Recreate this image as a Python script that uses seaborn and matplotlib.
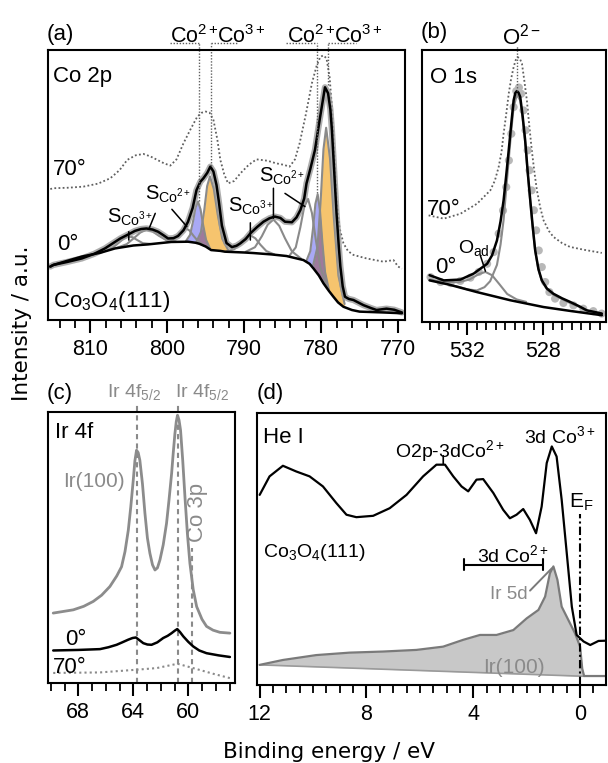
import numpy as np
import matplotlib
matplotlib.use("Agg")
import matplotlib.pyplot as plt
import seaborn as sns
from matplotlib.ticker import MultipleLocator

# ---------------- panel (a): Co 2p ----------------
a0_x = [815.2, 814.8, 813.0, 811.1, 809.5, 808.1, 806.1, 805.2, 804.2, 803.4, 802.7, 801.9, 801.2, 800.5, 799.9, 799.2,
        798.6, 797.9, 797.3, 796.7, 796.2, 795.7, 795.3, 794.8, 794.4, 794.0, 793.6, 793.3, 792.9, 792.3, 791.6, 791.0,
        790.5, 789.8, 789.2, 788.3, 787.5, 786.7, 786.0, 785.3, 784.7, 783.8, 783.2, 782.7, 782.2, 781.9, 781.4, 780.8,
        780.2, 779.8, 779.5, 779.1, 778.8, 778.6, 778.3, 778.0, 777.7, 777.5, 777.2, 776.9, 776.4, 775.8, 774.5, 773.5,
        772.8, 771.5, 770.5, 769.5]
a0_y = [19.8, 20.4, 21.5, 22.8, 24.5, 26.5, 30.2, 31.5, 33.0, 33.7, 33.9, 33.5, 32.7, 31.4, 30.2, 30.3,
        31.1, 33.2, 36.4, 41.5, 48.1, 51.2, 52.5, 54.5, 56.8, 55.0, 50.0, 44.0, 35.0, 28.5, 27.0, 27.5,
        28.4, 30.0, 32.1, 34.5, 36.4, 37.7, 38.3, 37.8, 36.4, 36.2, 38.0, 40.7, 45.0, 50.6, 56.0, 63.0,
        74.0, 81.0, 86.2, 84.0, 78.0, 70.4, 55.0, 39.5, 27.0, 19.8, 12.5, 8.6, 7.8, 7.4, 5.5, 4.4,
        3.7, 4.2, 3.8, 2.8]
a70_x = [815.2, 814.8, 812.8, 810.9, 809.0, 807.4, 806.2, 805.2, 804.1, 803.1, 802.2, 801.3, 800.4, 799.6, 798.8, 797.9,
         797.0, 796.1, 795.5, 795.0, 794.5, 794.0, 793.5, 793.1, 792.6, 792.1, 791.3, 790.5, 789.4, 788.4, 787.0, 785.8,
         784.9, 784.1, 783.4, 782.8, 782.0, 781.2, 780.6, 780.1, 779.7, 779.3, 778.9, 778.6, 778.3, 778.0, 777.6, 777.1,
         776.5, 775.8, 774.1, 771.9, 770.6, 770.0, 769.5]
a70_y = [48.5, 48.8, 49.0, 49.4, 50.5, 52.5, 55.5, 59.3, 61.0, 61.5, 60.6, 59.3, 58.0, 57.2, 59.5, 65.4,
         70.5, 75.3, 76.8, 77.2, 76.8, 74.1, 67.0, 59.3, 54.0, 50.6, 51.5, 54.3, 57.5, 59.5, 59.0, 58.0,
         57.5, 56.8, 59.5, 65.4, 76.0, 87.7, 94.0, 97.5, 98.0, 96.9, 90.0, 79.0, 62.0, 44.4, 34.0, 28.4,
         25.5, 24.1, 22.8, 21.6, 22.2, 19.8, 19.0]
a_bg_x = [815.2, 814.8, 811.1, 808.7, 806.8, 804.4, 802.5, 799.5, 797.3, 796.3, 795.8, 795.0, 794.3, 793.1, 792.5, 790.0,
          788.8, 786.5, 784.5, 782.3, 781.5, 781.0, 780.3, 779.7, 779.0, 778.4, 777.8, 777.1, 776.0, 775.0, 772.0, 769.5]
a_bg_y = [19.8, 20.4, 23.5, 24.9, 26.5, 27.6, 28.0, 28.9, 29.0, 28.6, 28.2, 27.2, 25.9, 25.6, 25.3, 25.0,
          24.8, 24.3, 23.7, 22.2, 20.8, 19.1, 16.5, 13.6, 10.8, 8.6, 6.5, 4.9, 3.7, 3.1, 2.8, 2.5]
# fitted components: energies and heights above background
a_co3_32_x = [776.95, 777.75, 778.35, 778.85, 779.35, 779.7, 780.05, 780.47, 781.03]
a_co3_32_h = [1.2, 10.0, 29.5, 49.6, 59.0, 49.6, 29.5, 10.0, 1.2]
a_co2_32_x = [779.01, 779.49, 779.85, 780.15, 780.45, 780.75, 781.05, 781.41, 781.89]
a_co2_32_h = [0.6, 5.0, 14.8, 24.8, 29.5, 24.8, 14.8, 5.0, 0.6]
a_co3_12_x = [792.05, 792.85, 793.45, 793.95, 794.45, 794.82, 795.18, 795.62, 796.2]
a_co3_12_h = [0.5, 4.6, 13.5, 22.7, 27.0, 22.7, 13.5, 4.6, 0.5]
a_co2_12_x = [794.44, 794.96, 795.35, 795.68, 796.0, 796.33, 796.65, 797.04, 797.56]
a_co2_12_h = [0.3, 2.6, 7.8, 13.0, 15.5, 13.0, 7.8, 2.6, 0.3]
a_sat1_x = [779.3, 780.1, 780.7, 781.2, 781.7, 782.2, 782.7, 783.3, 784.1]
a_sat1_h = [0.5, 4.0, 11.9, 19.9, 23.7, 19.9, 11.9, 4.0, 0.5]
a_sat2_x = [782.6, 783.8, 784.7, 785.45, 786.2, 786.95, 787.7, 788.6, 789.8]
a_sat2_h = [0.3, 2.2, 6.5, 10.9, 13.0, 10.9, 6.5, 2.2, 0.3]
a_sat3_x = [786.08, 787.12, 787.9, 788.55, 789.2, 789.85, 790.5, 791.28, 792.32]
a_sat3_h = [0.1, 1.1, 3.3, 5.5, 6.5, 5.5, 3.3, 1.1, 0.1]
a_sat4_x = [795.2, 796.0, 796.6, 797.1, 797.6, 798.1, 798.6, 799.2, 800.0]
a_sat4_h = [0.1, 0.85, 2.5, 4.2, 5.0, 4.2, 2.5, 0.85, 0.1]
a_sat5_x = [798.86, 800.14, 801.1, 801.9, 802.7, 803.5, 804.3, 805.26, 806.54]
a_sat5_h = [0.1, 0.9, 2.8, 4.6, 5.5, 4.6, 2.8, 0.9, 0.1]
a_sat6_x = [802.22, 803.18, 803.9, 804.5, 805.1, 805.7, 806.3, 807.02, 807.98]
a_sat6_h = [0.1, 0.6, 1.9, 3.1, 3.7, 3.1, 1.9, 0.6, 0.1]
a_ref_x = [795.9, 794.3, 780.56, 779.13]
a_ref_bottom = [44.0, 57.0, 47.0, 87.0]
a_ref_span_from = [799.6, 794.3, 784.6, 779.13]
a_ref_span_to = [795.9, 790.8, 780.56, 775.5]
a_ticks = [810, 800, 790, 780, 770]

# ---------------- panel (b): O 1s ----------------
b_fit_x = [534.0, 533.25, 532.37, 531.67, 530.96, 530.7, 530.44, 530.25, 530.09, 529.95, 529.82, 529.69, 529.56, 529.47,
           529.39, 529.3, 529.21, 529.08, 528.95, 528.82, 528.68, 528.55, 528.42, 528.25, 528.07, 527.8, 527.46, 527.0,
           526.58, 526.1, 525.7, 524.9]
b_fit_y = [17.2, 15.3, 15.6, 17.8, 21.4, 24.5, 30.0, 37.0, 44.7, 54.0, 63.1, 72.5, 81.5, 84.2,
           84.9, 84.3, 82.7, 75.5, 66.8, 55.5, 44.7, 35.0, 26.3, 19.5, 15.3, 12.3, 10.4, 8.7,
           7.4, 5.8, 4.3, 3.1]
b_bg_x = [534.0, 533.0, 531.5, 529.74, 527.98, 526.5, 524.9]
b_bg_y = [15.3, 13.8, 11.0, 8.0, 5.5, 4.0, 2.5]
b70_x = [534.05, 533.25, 532.37, 531.49, 530.79, 530.55, 530.35, 530.2, 530.09, 529.95, 529.82, 529.69, 529.56, 529.45,
         529.35, 529.23, 529.12, 529.0, 528.86, 528.73, 528.6, 528.46, 528.33, 528.15, 527.98, 527.7, 527.46, 527.0,
         526.58, 525.8, 524.9]
b70_y = [39.2, 38.0, 39.8, 43.5, 48.4, 52.0, 57.0, 62.5, 69.2, 76.5, 83.9, 89.5, 93.7, 96.3,
         97.4, 96.8, 95.0, 89.0, 81.5, 72.0, 63.1, 55.0, 48.4, 42.0, 37.4, 33.5, 31.3, 29.0,
         27.6, 26.5, 25.4]
b_dat_x = [533.95, 533.42, 532.89, 532.37, 531.84, 531.4, 530.96, 530.61, 530.35, 530.12, 529.95, 529.81, 529.68,
           529.56, 529.42, 529.28, 529.16, 529.04, 528.93, 528.82, 528.72, 528.61, 528.49, 528.37, 528.23, 528.07,
           527.89, 527.67, 527.37, 526.93, 526.4, 525.88, 525.35, 524.91]
b_dat_y = [16.5, 14.7, 14.3, 15.1, 16.3, 18.4, 21.4, 25.7, 32.5, 41.0, 49.6, 59.4, 69.2,
           79.0, 84.9, 86.2, 83.9, 77.8, 70.5, 63.1, 55.8, 48.4, 41.1, 33.7, 26.3, 20.2,
           14.7, 11.0, 8.6, 7.0, 6.1, 4.9, 4.0, 3.1]
b_o2_x = [532.6, 532.0, 531.5, 531.1, 530.8, 530.44, 530.25, 530.09, 529.95, 529.82, 529.69, 529.56, 529.39, 529.21,
          529.08, 528.95, 528.82, 528.68, 528.55, 528.42, 528.25, 528.07, 527.8, 527.46, 527.0, 526.58, 526.1, 525.7,
          524.9]
b_o2_y = [13.2, 12.0, 11.6, 12.8, 15.0, 21.0, 28.5, 37.5, 49.0, 59.5, 70.0, 79.0, 83.5, 81.5,
          74.5, 66.0, 55.0, 44.0, 34.5, 26.0, 19.2, 15.0, 12.0, 10.0, 8.4, 7.0, 5.6, 4.2,
          3.0]
b_oad_x = [534.0, 533.2, 532.5, 531.9, 531.4, 531.05, 530.7, 530.3, 529.9, 529.4, 528.9]
b_oad_y = [15.6, 14.8, 14.6, 15.6, 17.6, 18.4, 17.2, 13.8, 10.3, 8.3, 7.4]
b_ref_x = 529.38
b_ticks = [532, 528]

# ---------------- panel (c): Ir 4f ----------------
c_ir_x = [69.82, 68.36, 67.6, 66.91, 66.3, 65.7, 65.2, 64.85, 64.6, 64.36, 64.18, 64.0, 63.88, 63.76, 63.64, 63.52,
          63.33, 63.15, 62.97, 62.79, 62.6, 62.42, 62.24, 62.06, 61.82, 61.58, 61.4, 61.21, 61.09, 60.97, 60.87,
          60.78, 60.67, 60.56, 60.4, 60.24, 60.06, 59.88, 59.64, 59.39, 59.0, 58.67, 58.2, 57.7, 56.97]
c_ir_y = [25.8, 27.0, 28.3, 30.1, 32.4, 35.6, 39.5, 42.9, 48.5, 56.4, 65.0, 74.8, 82.0, 85.9, 85.0, 82.2,
          73.5, 62.6, 53.5, 47.9, 43.6, 41.7, 42.5, 45.4, 51.0, 58.9, 67.5, 77.3, 85.0, 92.0, 96.5,
          98.8, 97.0, 93.3, 82.0, 68.7, 55.0, 44.2, 34.5, 28.2, 23.5, 20.9, 19.5, 18.7, 18.4]
c0_x = [69.82, 68.0, 66.42, 65.8, 65.21, 64.8, 64.36, 64.05, 63.81, 63.55, 63.27, 62.97, 62.67, 62.25, 61.82, 61.5,
        61.21, 60.98, 60.8, 60.6, 60.36, 60.0, 59.64, 59.2, 58.67, 57.8, 56.97]
c0_y = [12.0, 12.2, 12.5, 13.2, 14.1, 15.0, 16.0, 16.6, 16.8, 15.8, 14.7, 14.2, 14.1, 15.0, 16.6, 17.4,
        18.4, 19.3, 19.9, 18.8, 17.2, 15.2, 13.5, 12.0, 11.0, 10.2, 9.6]
c70_x = [69.82, 66.42, 63.76, 62.3, 60.78, 59.64, 58.18, 56.97]
c70_y = [3.7, 3.9, 4.9, 5.5, 7.1, 5.5, 3.4, 1.8]
c_ref_x = [63.76, 60.78]
c_co3p_x = 59.7
c_ticks = [68, 64, 60]

# ---------------- panel (d): He I UPS ----------------
d_co_x = [12.0, 11.63, 11.13, 10.63, 10.13, 9.63, 9.13, 8.75, 8.38, 7.75, 7.13, 6.5, 5.88, 5.38, 5.06, 4.75, 4.44,
          4.19, 3.88, 3.63, 3.25, 2.88, 2.63, 2.38, 2.13, 1.88, 1.65, 1.44, 1.25, 1.06, 0.88, 0.69, 0.5, 0.31,
          0.13, -0.13, -0.38, -0.69, -1.0]
d_co_y = [69.9, 76.7, 80.6, 78.5, 76.7, 73.0, 66.9, 62.6, 61.7, 62.2, 65.0, 69.9, 76.7, 81.0, 81.0, 76.7, 73.0,
          71.2, 75.5, 75.7, 70.6, 64.4, 61.3, 62.6, 64.7, 60.7, 55.8, 65.6, 81.6, 87.7, 84.0, 68.1, 48.5, 28.8,
          18.4, 16.0, 14.7, 16.2, 16.3]
d_ir_x = [12.0, 11.13, 9.88, 8.63, 7.38, 6.13, 5.13, 4.38, 3.75, 3.13, 2.5, 2.0, 1.56, 1.31, 1.13, 1.0, 0.85,
          0.69, 0.44, 0.19, 0.0, -0.08, -0.15, -0.3, -1.0]
d_ir_y = [7.4, 9.2, 11.0, 11.9, 12.3, 12.9, 14.1, 16.6, 18.4, 18.4, 20.2, 24.5, 27.6, 32.5, 41.1, 43.6, 38.7,
          28.8, 23.9, 19.0, 14.1, 6.0, 3.3, 3.3, 3.3]
d_ir_bg_x = [12.0, -0.15]
d_ir_bg_y = [7.4, 3.2]
d_co2_bar = [4.34, 1.4]
d_co2_bar_y = 44.2
d_ef_x = 0.0
d_ef_top = 63.0
d_ticks = [12, 8, 4, 0]

# ---------------- style ----------------
sns.set_theme(style="ticks")
plt.rcParams["font.family"] = ["Liberation Sans", "DejaVu Sans"]
plt.rcParams.update({
    "mathtext.fontset": "custom",
    "mathtext.rm": "Liberation Sans",
    "mathtext.it": "Liberation Sans:italic",
    "mathtext.bf": "Liberation Sans:bold",
    "mathtext.sf": "Liberation Sans",
    "axes.linewidth": 1.5,
    "axes.edgecolor": "black",
    "xtick.major.size": 9.0,
    "xtick.major.width": 1.5,
    "xtick.minor.size": 5.5,
    "xtick.minor.width": 1.3,
    "xtick.direction": "out",
    "xtick.color": "black",
    "xtick.labelsize": 15.5,
    "xtick.major.pad": 4.5,
})

W, H = 608, 763
fig = plt.figure(figsize=(W / 100, H / 100), dpi=100)


def rect(l, t, r, b):
    return [l / W, 1 - b / H, (r - l) / W, (b - t) / H]


def T(px, py, s, size=16, color="black", ha="left", va="baseline", **kw):
    fig.text(px / W, 1 - py / H, s, fontsize=size, color=color, ha=ha, va=va, **kw)


def bg_at(x, bx, by):
    bx = np.asarray(bx, float)
    by = np.asarray(by, float)
    o = np.argsort(bx)
    return np.interp(np.asarray(x, float), bx[o], by[o])


def line(ax, x, y, **kw):
    sns.lineplot(x=x, y=y, ax=ax, sort=False, estimator=None, legend=False, **kw)


GRAY = "#8a8a8a"
DOT = "#606060"
ORANGE = "#F6C46E"
BLUE = "#A9A9F5"
PURPLE = "#9E7A9C"

ax_a = fig.add_axes(rect(48, 50, 405, 320))
ax_b = fig.add_axes(rect(422, 50, 606, 322))
ax_c = fig.add_axes(rect(48, 412, 235, 683))
ax_d = fig.add_axes(rect(257, 413, 606, 685))

# ---------- (a) ----------
ax = ax_a
line(ax, a70_x, a70_y, color=DOT, lw=1.3, linestyle=(0, (1, 1.3)))
for ox, oh, ux, uh in [(a_co3_32_x, a_co3_32_h, a_co2_32_x, a_co2_32_h),
                       (a_co3_12_x, a_co3_12_h, a_co2_12_x, a_co2_12_h)]:
    xo = np.array(ox)
    yo = bg_at(xo, a_bg_x, a_bg_y) + np.array(oh)
    xu = np.array(ux)
    yu = bg_at(xu, a_bg_x, a_bg_y) + np.array(uh)
    ax.fill_between(xo, bg_at(xo, a_bg_x, a_bg_y), yo, color=ORANGE, lw=0)
    ax.fill_between(xu, bg_at(xu, a_bg_x, a_bg_y), yu, color=BLUE, lw=0)
    xg = np.unique(np.concatenate([xo, xu]))
    ob = bg_at(xg, a_bg_x, a_bg_y)
    in_o = (xg >= xo.min()) & (xg <= xo.max())
    in_u = (xg >= xu.min()) & (xg <= xu.max())
    o_i = np.where(in_o, bg_at(xg, xo, yo), ob)
    u_i = np.where(in_u, bg_at(xg, xu, yu), ob)
    ax.fill_between(xg, ob, np.minimum(o_i, u_i), color=PURPLE, lw=0)
    line(ax, xo, yo, color=GRAY, lw=1.5)
    line(ax, xu, yu, color=GRAY, lw=1.5)
for sx, sh in [(a_sat1_x, a_sat1_h), (a_sat2_x, a_sat2_h), (a_sat3_x, a_sat3_h),
               (a_sat4_x, a_sat4_h), (a_sat5_x, a_sat5_h), (a_sat6_x, a_sat6_h)]:
    sx = np.array(sx)
    line(ax, sx, bg_at(sx, a_bg_x, a_bg_y) + np.array(sh), color=GRAY, lw=1.5)
line(ax, a0_x, a0_y, color="#9a9a9a", lw=4.5, alpha=0.8)
line(ax, a_bg_x, a_bg_y, color="black", lw=1.8)
line(ax, a0_x, a0_y, color="black", lw=1.8)
for x, yb in zip(a_ref_x, a_ref_bottom):
    ax.plot([x, x], [yb, 102.5], color=DOT, lw=1.0, ls=(0, (1, 1.2)), clip_on=False)
for x0, x1 in zip(a_ref_span_from, a_ref_span_to):
    ax.plot([x0, x1], [102.5, 102.5], color=DOT, lw=1.0, ls=(0, (1, 1.2)), clip_on=False)
ax.set_xlim(815.5, 769.1)
ax.set_xticks(a_ticks)
ax.xaxis.set_minor_locator(MultipleLocator(2))
for (x0, y0), (x1, y1) in [((805.0, 32.7), (805.0, 29.6)), ((801.56, 39.5), (802.4, 33.6)),
                           ((799.4, 41.0), (797.45, 34.6)), ((789.2, 36.0), (789.2, 29.6)),
                           ((786.2, 48.8), (786.2, 37.7)), ((784.7, 46.9), (782.1, 42.0))]:
    ax.annotate("", xy=(x1, y1), xytext=(x0, y0),
                arrowprops=dict(arrowstyle="-", color="black", lw=1.1, shrinkA=0, shrinkB=0))

# ---------- (b) ----------
ax = ax_b
line(ax, b70_x, b70_y, color=DOT, lw=1.3, linestyle=(0, (1, 1.3)))
sns.scatterplot(x=b_dat_x, y=b_dat_y, ax=ax, color="#b8b8b8", s=34, edgecolor="none", legend=False, zorder=2)
line(ax, b_oad_x, b_oad_y, color=GRAY, lw=1.5)
line(ax, b_o2_x, b_o2_y, color=GRAY, lw=1.5)
line(ax, b_bg_x, b_bg_y, color="black", lw=1.8)
line(ax, b_fit_x, b_fit_y, color="black", lw=1.8)
ax.plot([b_ref_x, b_ref_x], [85, 101.5], color=DOT, lw=1.0, ls=(0, (1, 1.2)), clip_on=False)
ax.annotate("", xy=(531.05, 18.7), xytext=(531.32, 24.5),
            arrowprops=dict(arrowstyle="-", color="black", lw=1.1, shrinkA=0, shrinkB=0))
ax.set_xlim(534.4, 524.68)
ax.set_xticks(b_ticks)
ax.xaxis.set_minor_locator(MultipleLocator(0.5))

# ---------- (c) ----------
ax = ax_c
for x in c_ref_x:
    ax.plot([x, x], [0, 103.5], color=GRAY, lw=1.5, ls=(0, (2.5, 2)), clip_on=False, zorder=1)
ax.plot([c_co3p_x, c_co3p_x], [0, 50], color=GRAY, lw=1.5, ls=(0, (2.5, 2)), zorder=1)
line(ax, c_ir_x, c_ir_y, color="#8c8c8c", lw=2.0)
line(ax, c0_x, c0_y, color="black", lw=1.8)
line(ax, c70_x, c70_y, color=GRAY, lw=1.5, linestyle=(0, (1, 1.5)))
ax.set_xlim(70.2, 56.6)
ax.set_xticks(c_ticks)
ax.xaxis.set_minor_locator(MultipleLocator(1))

# ---------- (d) ----------
ax = ax_d
ix = np.array(d_ir_x)
iy = np.array(d_ir_y)
m = ix >= min(d_ir_bg_x)
ax.fill_between(ix[m], bg_at(ix[m], d_ir_bg_x, d_ir_bg_y), iy[m], color="#c8c8c8", lw=0)
line(ax, d_ir_bg_x, d_ir_bg_y, color="#9a9a9a", lw=1.2)
line(ax, d_ir_x, d_ir_y, color="#7a7a7a", lw=1.6)
line(ax, d_co_x, d_co_y, color="black", lw=1.6)
ax.plot([d_ef_x, d_ef_x], [0, d_ef_top], color="black", lw=1.5, ls=(0, (4, 1.5, 1, 1.5)))
ax.plot(d_co2_bar, [d_co2_bar_y, d_co2_bar_y], color="black", lw=1.5)
for x in d_co2_bar:
    ax.plot([x, x], [d_co2_bar_y - 2.0, d_co2_bar_y + 2.0], color="black", lw=1.5)
ax.annotate("", xy=(5.125, 81.3), xytext=(5.125, 84.3),
            arrowprops=dict(arrowstyle="-", color="black", lw=1.2, shrinkA=0, shrinkB=0))
ax.annotate("", xy=(1.06, 42.9), xytext=(1.875, 34.7),
            arrowprops=dict(arrowstyle="-", color="#7a7a7a", lw=1.4, shrinkA=0, shrinkB=0))
ax.set_xlim(12.1, -0.97)
ax.set_xticks(d_ticks)
ax.xaxis.set_minor_locator(MultipleLocator(0.5))

for ax in (ax_a, ax_b, ax_c, ax_d):
    ax.set_ylim(0, 100)
    ax.set_yticks([])
    ax.set_xlabel("")
    ax.set_ylabel("")
    ax.tick_params(axis="x", which="both", top=False, bottom=True)
    for sp in ax.spines.values():
        sp.set_visible(True)
        sp.set_linewidth(1.5)
        sp.set_color("black")

# ---------------- texts ----------------
# (a)
T(47, 40, "(a)")
T(53, 82, "Co 2p")
T(53, 175, "70°")
T(57, 250, "0°")
T(53, 307, r"Co$_3$O$_4$(111)")
T(170, 43, r"Co$^{2+}$", size=15.5)
T(217, 43, r"Co$^{3+}$", size=15.5)
T(287, 43, r"Co$^{2+}$", size=15.5)
T(334, 43, r"Co$^{3+}$", size=15.5)
T(107, 223, r"S$_{\mathrm{Co}^{3+}}$", size=14.5)
T(145, 200, r"S$_{\mathrm{Co}^{2+}}$", size=14.5)
T(228, 212, r"S$_{\mathrm{Co}^{3+}}$", size=14.5)
T(259, 182, r"S$_{\mathrm{Co}^{2+}}$", size=14.5)
# (b)
T(421, 38, "(b)")
T(502, 45, r"O$^{2-}$")
T(430, 83, "O 1s")
T(427, 215, "70°")
T(435, 273, "0°")
T(458, 253, r"O$_{\mathrm{ad}}$", size=14)
# (c)
T(47, 399, "(c)")
T(107, 397, r"Ir 4f$_{5/2}$", size=14, color="#8a8a8a")
T(175, 397, r"Ir 4f$_{5/2}$", size=14, color="#8a8a8a")
T(55, 438, "Ir 4f")
T(63, 487, "Ir(100)", size=15, color="#8a8a8a")
T(197, 512, "Co 3p", color="#8a8a8a", rotation=90, ha="center", va="center")
T(65, 645, "0°")
T(53, 673, "70°")
# (d)
T(257, 399, "(d)")
T(263, 443, "He I")
T(395, 457, r"O2p-3dCo$^{2+}$", size=14)
T(524, 443, r"3d Co$^{3+}$", size=14)
T(569, 508, r"E$_{\mathrm{F}}$", size=15)
T(263, 557, r"Co$_3$O$_4$(111)", size=14)
T(477, 562, r"3d Co$^{2+}$", size=14)
T(490, 599, "Ir 5d", size=13.5, color="#8a8a8a")
T(483, 673, "Ir(100)", size=15, color="#8a8a8a")

T(22, 323, "Intensity / a.u.", size=15.5, rotation=90, ha="center", va="center", family="DejaVu Sans")
T(329, 758, "Binding energy / eV", size=15.5, ha="center", family="DejaVu Sans")

fig.savefig("out.png", dpi=100)
